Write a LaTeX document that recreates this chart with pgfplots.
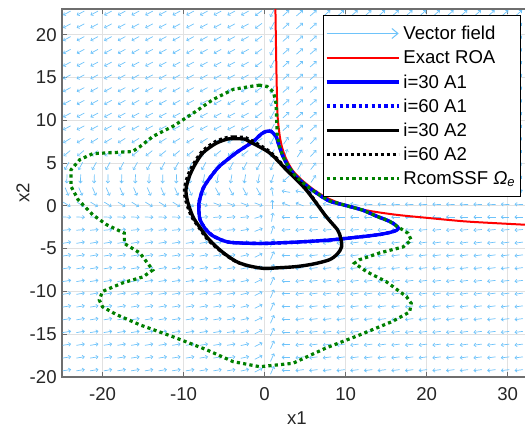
\documentclass[border=0pt]{standalone}
\usepackage{fontspec}
\setmainfont{Liberation Sans}
\usepackage{pgfplots}
\pgfplotsset{compat=1.18}
\usepackage{pgfplotstable}
\usetikzlibrary{arrows.meta}
\definecolor{vfc}{RGB}{110,195,250}
\definecolor{axc}{RGB}{110,110,110}
\definecolor{tkc}{RGB}{38,38,38}
\definecolor{grc}{RGB}{225,225,225}
\definecolor{mgreen}{RGB}{0,128,0}

\pgfplotstableread{
y c0 c1 c2 c3 c4 c5 c6 c7 c8 c9 c10 c11 c12 c13 c14 c15 c16 c17 c18 c19 c20 c21 c22 c23 c24 c25 c26 c27 c28 c29 c30 c31 c32 c33
-19.2  9 9 9 9 9 9 9 9 9 9 9 9 9 12 25 65 180 187 187 187 187 187 187 187 187 187 187 187 187 187 187 187 187 187
-17.71 9 9 9 9 9 9 9 9 9 9 9 9 9 12 25 65 180 187 187 187 187 187 187 187 187 187 187 187 187 187 187 187 187 187
-16.22 9 9 9 9 9 9 9 9 9 9 9 9 9 12 25 65 180 187 187 187 187 187 187 187 187 187 187 187 187 187 187 187 187 187
-14.73 9 9 9 9 9 9 9 9 9 9 9 9 9 12 25 65 180 187 187 187 187 187 187 187 187 187 187 187 187 187 187 187 187 187
-13.24 9 9 9 9 9 9 9 9 9 9 9 9 9 12 25 65 180 187 187 187 187 187 187 187 187 187 187 187 187 187 187 187 187 187
-11.75 9 9 9 9 9 9 9 9 9 9 9 9 9 12 25 65 180 187 187 187 187 187 187 187 187 187 187 187 187 187 187 187 187 187
-10.26 9 9 9 9 9 9 9 9 9 9 9 9 9 12 25 65 180 187 187 187 187 187 187 187 187 187 187 187 187 187 187 187 187 187
-8.77  9 9 9 9 9 9 9 9 9 9 9 9 9 12 25 65 180 187 187 187 187 187 187 187 187 187 187 187 187 187 187 187 187 187
-7.28  9 9 9 9 9 9 9 9 9 9 9 9 9 12 25 65 180 187 187 187 187 187 187 187 187 187 187 187 187 187 187 187 187 187
-5.79  9 9 9 9 9 9 9 9 9 9 9 9 9 12 25 65 180 187 187 187 187 187 187 187 187 187 187 187 187 187 187 187 187 187
-4.3   9 9 9 9 9 9 9 9 9 9 9 9 9 12 25 65 180 187 187 187 187 187 187 187 187 187 187 187 187 187 187 187 187 187
-2.81  5 5 5 5 5 5 5 5 5 5 5 5 5 10 20 70 185 185 185 185 185 185 185 185 185 185 185 185 185 185 185 185 185 185
-1.32  358 358 358 358 358 358 358 358 358 358 5 5 5 5 15 80 180 180 180 180 180 180 180 180 180 180 180 180 180 180 180 180 180 180
0.17   330 330 330 330 330 330 330 330 330 330 340 340 340 340 340 90 160 160 160 170 170 170 178 178 178 178 178 178 178 178 178 178 178 178
1.66   295 295 295 295 295 295 295 295 295 295 300 300 300 300 300 100 170 170 200 20 20 20 20 20 20 20 20 20 20 20 20 20 20 20
3.15   268 268 268 268 268 268 268 268 268 268 260 260 260 260 260 250 220 260 55 40 40 40 40 40 40 40 40 40 40 40 40 40 40 40
4.64   240 240 240 240 240 240 240 240 240 240 240 240 240 240 240 245 250 60 50 50 50 50 50 50 50 50 50 50 50 50 50 50 50 50
6.13   218 218 218 218 218 218 218 218 218 218 218 218 218 218 218 240 70 55 45 45 45 45 45 45 45 45 45 45 45 45 45 45 45 45
7.62   210 210 210 210 210 210 210 210 210 210 210 210 210 210 210 240 55 45 45 45 45 45 45 45 45 45 45 45 45 45 45 45 45 45
9.11   207 207 207 207 207 207 207 207 207 207 207 207 207 207 215 240 40 40 40 40 40 40 40 40 40 40 40 40 40 40 40 40 40 40
10.6   207 207 207 207 207 207 207 207 207 207 207 207 207 207 215 240 40 40 40 40 40 40 40 40 40 40 40 40 40 40 40 40 40 40
12.09  207 207 207 207 207 207 207 207 207 207 207 207 207 207 215 240 40 40 40 40 40 40 40 40 40 40 40 40 40 40 40 40 40 40
13.58  207 207 207 207 207 207 207 207 207 207 207 207 207 207 215 240 40 40 40 40 40 40 40 40 40 40 40 40 40 40 40 40 40 40
15.07  207 207 207 207 207 207 207 207 207 207 207 207 207 207 215 240 40 40 40 40 40 40 40 40 40 40 40 40 40 40 40 40 40 40
16.56  207 207 207 207 207 207 207 207 207 207 207 207 207 207 215 240 40 40 40 40 40 40 40 40 40 40 40 40 40 40 40 40 40 40
18.05  207 207 207 207 207 207 207 207 207 207 207 207 207 207 215 240 40 40 40 40 40 40 40 40 40 40 40 40 40 40 40 40 40 40
19.54  207 207 207 207 207 207 207 207 207 207 207 207 207 207 215 240 40 40 40 40 40 40 40 40 40 40 40 40 40 40 40 40 40 40
21.03  207 207 207 207 207 207 207 207 207 207 207 207 207 207 215 240 40 40 40 40 40 40 40 40 40 40 40 40 40 40 40 40 40 40
22.52  207 207 207 207 207 207 207 207 207 207 207 207 207 207 215 240 40 40 40 40 40 40 40 40 40 40 40 40 40 40 40 40 40 40
}\vf

\begin{document}
\begin{tikzpicture}
\path[use as bounding box] (0,0) rectangle (262.5bp,215bp);
\begin{axis}[
  at={(31bp,26.5bp)}, anchor=south west,
  scale only axis, width=235bp, height=184bp,
  xmin=-25, xmax=33, ymin=-20, ymax=23,
  xtick={-20,-10,0,10,20,30},
  ytick={-20,-15,-10,-5,0,5,10,15,20},
  grid=major, major grid style={grc, line width=0.5bp},
  tick align=inside, major tick length=2.5bp,
  tick style={axc, line width=0.5bp},
  axis line style={axc, line width=0.8bp},
  /pgf/number format/assume math mode=true,
  every tick label/.append style={tkc, font=\fontsize{9.3bp}{11bp}\selectfont},
  xticklabel style={inner sep=0pt, anchor=center, yshift=-8.5bp},
  yticklabel style={inner sep=0pt, anchor=east, xshift=-2.5bp},
  xlabel={x1}, ylabel={x2},
  label style={tkc, font=\fontsize{9.3bp}{11bp}\selectfont},
  xlabel style={at={(axis description cs:0.5,-0.111)}, anchor=center},
  ylabel style={at={(axis description cs:-0.083,0.5)}, anchor=center},
  legend image code/.code={\draw[#1] (0bp,0bp) -- (36bp,0bp);},
  legend cell align=left,
  legend style={at={(axis cs:7.16,22.3)}, anchor=north west, draw=black, line width=0.4bp, fill=white,
    font=\fontsize{9.3bp}{11bp}\selectfont, inner xsep=1bp, inner ysep=3bp, row sep=0pt,
    nodes={inner xsep=1.5bp, inner ysep=0.5bp, text height=8.7bp, text depth=2.4bp}},
]
\pgfplotsinvokeforeach{0,...,33}{
  \addplot[vfc, line width=0.35bp, -{Straight Barb[length=1bp,width=1.8bp]}, forget plot,
    quiver={u={1.05*cos(\thisrow{c#1})}, v={1.05*sin(\thisrow{c#1})}}]
    table[x expr={-24.4+1.69*#1-0.52*cos(\thisrow{c#1})}, y expr={\thisrow{y}-0.52*sin(\thisrow{c#1})}] {\vf};
}
\addlegendimage{vfc, line width=0.5bp, -{Straight Barb[length=3bp,width=5bp]}}
\addlegendentry{Vector field}

\addplot[red, line width=1bp, smooth, tension=0.5] coordinates {
(1.33,23.5) (1.42,18) (1.5,14) (1.58,11) (1.7,9.5) (1.9,8) (2.2,6.7) (2.7,5.4) (3.5,4.1) (4.5,3.1) (5.5,2.3) (6.5,1.6) (8,0.8) (10.5,-0.1) (13,-0.6) (16.3,-1.05) (20,-1.4) (24.5,-1.8) (28,-2.0) (33,-2.25)};
\addlegendentry{Exact ROA}

\addplot[blue, line width=1.7bp, smooth, tension=0.4] coordinates {
(1.44,8.1) (0.8,8.7) (0.2,8.7) (-0.4,8.4) (-1.44,7.5) (-3.5,6.2) (-5.6,4.6) (-6.8,3.2) (-7.6,2.0) (-8.1,0.3) (-8.0,-1.5) (-7.3,-2.7) (-6.4,-3.5) (-5,-4.1) (-3.9,-4.3) (-0.6,-4.4) (2.5,-4.3) (4.7,-4.2) (8.0,-4.0) (10.1,-3.8) (12.5,-3.55) (14.2,-3.35) (15.5,-3.1) (16.3,-2.85) (16.5,-2.6) (16.1,-2.2) (15.4,-1.8) (13.8,-1.2) (12.1,-0.5) (10.0,0.05) (8.0,0.55) (6.4,1.5) (5.1,2.4) (3.9,3.4) (3.0,4.5) (2.26,5.8) (1.8,7.0) (1.44,8.1)};
\addlegendentry{i=30 A1}

\addplot[blue, line width=1.7bp, dash pattern=on 1.6bp off 1.6bp, smooth, tension=0.4] coordinates {
(1.44,8.1) (0.8,8.7) (0.2,8.7) (-0.4,8.4) (-1.44,7.5) (-3.5,6.2) (-5.6,4.6) (-6.8,3.2) (-7.6,2.0) (-8.1,0.3) (-8.0,-1.5) (-7.3,-2.7) (-6.4,-3.5) (-5,-4.1) (-3.9,-4.3) (-0.6,-4.4) (2.5,-4.3) (4.7,-4.2) (8.0,-4.0) (10.1,-3.8) (12.5,-3.55) (14.2,-3.35) (15.5,-3.1) (16.3,-2.85) (16.5,-2.6) (16.1,-2.2) (15.4,-1.8) (13.8,-1.2) (12.1,-0.5) (10.0,0.05) (8.0,0.55) (6.4,1.5) (5.1,2.4) (3.9,3.4) (3.0,4.5) (2.26,5.8) (1.8,7.0) (1.44,8.1)};
\addlegendentry{i=60 A1}

\addplot[black, line width=1.7bp, smooth, tension=0.5] coordinates {
(-3.8,7.85) (-2.5,7.8) (-1.85,7.5) (0.6,6.2) (2.7,4.2) (5.1,1.9) (7.6,-1.25) (9.0,-2.8) (9.4,-3.8) (9.5,-4.8) (9.0,-5.6) (8.0,-6.3) (6.0,-6.8) (3.9,-7.1) (1.5,-7.25) (-0.2,-7.3) (-2,-7.0) (-3.5,-6.5) (-5.2,-5.4) (-6.8,-4.0) (-8.0,-2.5) (-8.85,-1.25) (-9.5,0.5) (-9.7,1.9) (-9.3,3.4) (-8.6,4.8) (-7.6,6.2) (-6,7.3) (-4.6,7.8) (-3.8,7.85)};
\addlegendentry{i=30 A2}

\addplot[black, line width=1.1bp, dash pattern=on 1.5bp off 1.5bp, smooth, tension=0.5] coordinates {
(-3.8,8.1) (-2.4,8.05) (-1.7,7.75) (0.7,6.35) (2.8,4.3) (5.2,2.0) (7.6,-1.2) (9.0,-2.8) (9.4,-3.8) (9.5,-4.8) (9.0,-5.6) (8.0,-6.3) (6.0,-6.8) (3.9,-7.1) (1.5,-7.25) (-0.2,-7.35) (-2,-7.05) (-3.6,-6.55) (-5.3,-5.45) (-7.0,-4.05) (-8.2,-2.5) (-9.1,-1.2) (-9.75,0.5) (-9.95,1.9) (-9.55,3.5) (-8.8,4.95) (-7.75,6.4) (-6.1,7.55) (-4.6,8.05) (-3.8,8.1)};
\addlegendentry{i=60 A2}

\addplot[mgreen, line width=1.6bp, dash pattern=on 1.6bp off 1.6bp] coordinates {
(-0.6,14.1) (-1.44,14.0) (-3.9,13.6) (-6.4,12.4) (-8.85,10.8) (-11.3,9.3) (-13.8,8.1) (-15.4,6.9) (-16.3,6.35) (-19.1,6.2) (-21.2,6.1) (-22.8,5.4) (-23.9,4.2) (-23.9,2.3) (-23.0,0.7) (-21.2,-1.05) (-19.5,-2.2) (-17.3,-3.2) (-17.3,-4.4) (-15.4,-5.5) (-13.8,-7.5) (-15.0,-8.3) (-17.5,-9.0) (-20.0,-10.0) (-20.4,-11.0) (-20.0,-11.8) (-18.3,-12.7) (-15.4,-13.9) (-11.3,-15.3) (-7.2,-16.8) (-3.9,-18.2) (-0.6,-18.8) (3.5,-18.4) (7.6,-16.6) (11.7,-15.1) (15.8,-13.5) (17.9,-12.4) (18.1,-11.4) (17.5,-10.6) (15.0,-8.85) (12.6,-7.7) (11.1,-6.7) (11.7,-6.3) (14.2,-5.5) (17.1,-4.8) (18.1,-4.0) (17.7,-3.2) (16.7,-2.6) (15.4,-1.8) (13.8,-1.2) (12.1,-0.5) (10.0,0.05) (8.0,0.6) (6.4,1.5) (5.1,2.4) (3.9,3.4) (3.0,4.5) (2.26,5.8) (1.8,7.0) (1.55,8.5) (1.5,10) (1.4,12) (1.1,13.3) (0.3,13.95) (-0.6,14.1)};
\addlegendentry{RcomSSF {\itshape Ω}\textsubscript{\itshape e}}
\end{axis}
\end{tikzpicture}
\end{document}
